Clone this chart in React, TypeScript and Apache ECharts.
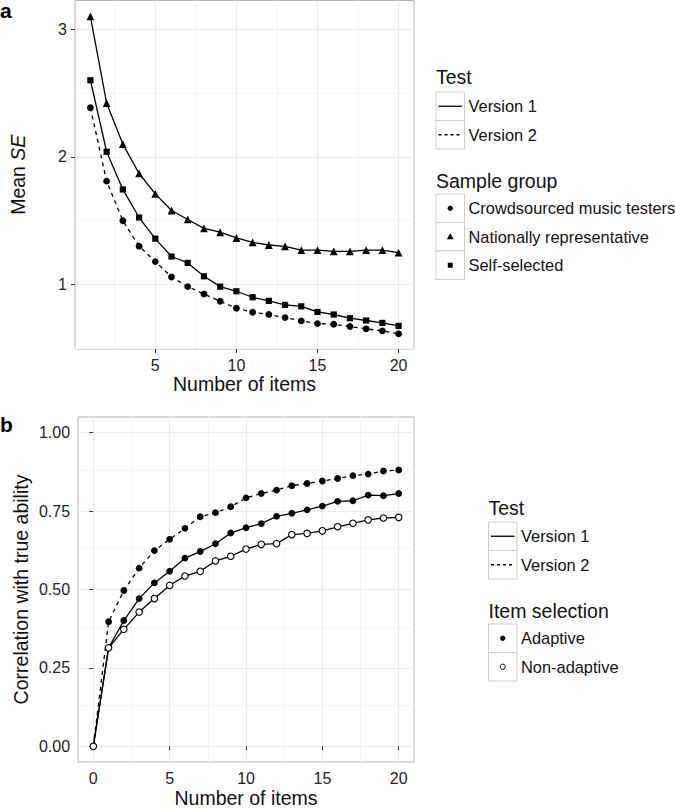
import React, { useEffect, useRef } from "react";
import * as echarts from "echarts";

const FONT = '"Liberation Sans", Arial, Helvetica, sans-serif';

// Panel a data
const itemsA = [1, 2, 3, 4, 5, 6, 7, 8, 9, 10, 11, 12, 13, 14, 15, 16, 17, 18, 19, 20];
const crowdsourcedV2 = [2.385, 1.81, 1.5, 1.3, 1.18, 1.06, 0.984, 0.927, 0.87, 0.815, 0.784, 0.766, 0.742, 0.716, 0.695, 0.69, 0.672, 0.654, 0.638, 0.615];
const nationalV1 = [3.1, 2.42, 2.1, 1.87, 1.71, 1.58, 1.51, 1.44, 1.41, 1.365, 1.33, 1.31, 1.3, 1.27, 1.27, 1.26, 1.26, 1.27, 1.27, 1.25];
const selfSelectedV1 = [2.6, 2.04, 1.745, 1.525, 1.36, 1.22, 1.17, 1.065, 0.984, 0.948, 0.901, 0.873, 0.841, 0.83, 0.786, 0.766, 0.737, 0.719, 0.7, 0.677];
const ticksAX = [5, 10, 15, 20];
const ticksAY = [1, 2, 3];
const minorAX = [2.5, 7.5, 12.5, 17.5];
const minorAY = [0.5, 1.5, 2.5];

// Panel b data
const itemsB = [0, 1, 2, 3, 4, 5, 6, 7, 8, 9, 10, 11, 12, 13, 14, 15, 16, 17, 18, 19, 20];
const adaptiveV2 = [0, 0.397, 0.497, 0.568, 0.624, 0.66, 0.695, 0.732, 0.745, 0.764, 0.792, 0.806, 0.817, 0.831, 0.838, 0.846, 0.854, 0.863, 0.868, 0.878, 0.881];
const adaptiveV1 = [0, 0.314, 0.401, 0.471, 0.521, 0.558, 0.6, 0.621, 0.646, 0.68, 0.697, 0.71, 0.733, 0.743, 0.754, 0.766, 0.781, 0.783, 0.801, 0.799, 0.806];
const nonAdaptiveV1 = [0, 0.314, 0.373, 0.428, 0.471, 0.513, 0.543, 0.558, 0.591, 0.606, 0.629, 0.644, 0.646, 0.675, 0.679, 0.687, 0.7, 0.711, 0.722, 0.728, 0.73];
const ticksBX = [0, 5, 10, 15, 20];
const ticksBY = [0, 0.25, 0.5, 0.75, 1];
const minorBX = [2.5, 7.5, 12.5, 17.5];
const minorBY = [0.125, 0.375, 0.625, 0.875];

const legendTest = ["Version 1", "Version 2"];
const legendSample = ["Crowdsourced music testers", "Nationally representative", "Self-selected"];
const legendItem = ["Adaptive", "Non-adaptive"];

const pairs = (xs: number[], ys: number[]) => xs.map((x, i) => [x, ys[i]]);

const MAJOR = "#ebebeb";
const MINOR = "#f4f4f4";

function gridSeries(idx: number, mx: number[], my: number[], Mx: number[], My: number[]) {
  const mk = (vals: number[], key: string, color: string) =>
    vals.map((v) => ({ [key]: v, lineStyle: { color, width: 1, type: "solid" } }));
  return {
    type: "line",
    xAxisIndex: idx,
    yAxisIndex: idx,
    data: [],
    silent: true,
    z: 0,
    markLine: {
      z: 0,
      silent: true,
      symbol: ["none", "none"],
      label: { show: false },
      animation: false,
      data: [
        ...mk(mx, "xAxis", MINOR),
        ...mk(my, "yAxis", MINOR),
        ...mk(Mx, "xAxis", MAJOR),
        ...mk(My, "yAxis", MAJOR),
      ],
    },
  };
}

function axisBase(ticks: number[], fmt?: (v: number) => string) {
  return {
    type: "value",
    axisLine: { show: false },
    splitLine: { show: false },
    axisTick: { show: true, length: 4, lineStyle: { color: "#333", width: 1 }, customValues: ticks },
    axisLabel: {
      customValues: ticks,
      color: "#222",
      fontSize: 16,
      fontFamily: FONT,
      formatter: fmt ? (v: number) => fmt(v) : undefined,
    },
  };
}

function legendBlock(x: number, titleY: number, title: string, rowsY: number[], labels: string[], kinds: string[]) {
  const els: any[] = [];
  els.push({
    type: "text",
    x,
    y: titleY,
    style: { text: title, fontSize: 19.5, fontFamily: FONT, fill: "#111", align: "left", verticalAlign: "middle" },
  });
  const S = 28.5;
  rowsY.forEach((y, i) => {
    const cx = x + S / 2;
    const cy = y + S / 2;
    els.push({ type: "rect", shape: { x, y, width: S, height: S }, style: { fill: "#fff", stroke: "#cccccc", lineWidth: 1 } });
    const k = kinds[i];
    if (k === "solid" || k === "dashed") {
      els.push({
        type: "line",
        shape: { x1: x + 2.5, y1: cy, x2: x + S - 2.5, y2: cy },
        style: { stroke: "#000", lineWidth: 1.3, lineDash: k === "dashed" ? [3, 3] : null },
      });
    } else if (k === "circle") {
      els.push({ type: "circle", shape: { cx, cy, r: 2.6 }, style: { fill: "#000" } });
    } else if (k === "open") {
      els.push({ type: "circle", shape: { cx, cy, r: 2.6 }, style: { fill: "#fff", stroke: "#000", lineWidth: 1 } });
    } else if (k === "triangle") {
      els.push({ type: "polygon", shape: { points: [[cx, cy - 3.4], [cx - 3.4, cy + 2.5], [cx + 3.4, cy + 2.5]] }, style: { fill: "#000" } });
    } else if (k === "square") {
      els.push({ type: "rect", shape: { x: cx - 2.5, y: cy - 2.5, width: 5, height: 5 }, style: { fill: "#000" } });
    }
    els.push({
      type: "text",
      x: x + 32.5,
      y: cy,
      style: { text: labels[i], fontSize: 16.4, fontFamily: FONT, fill: "#111", align: "left", verticalAlign: "middle" },
    });
  });
  return els;
}

export default function App() {
  const ref = useRef<HTMLDivElement>(null);
  useEffect(() => {
    if (!ref.current) return;
    const chart = echarts.init(ref.current, undefined, { renderer: "svg" });
    const lineS = (idx: number, name: string, data: number[][], dashed: boolean) => ({
      type: "line",
      name,
      xAxisIndex: idx,
      yAxisIndex: idx,
      data,
      symbol: "none",
      z: 6,
      silent: true,
      lineStyle: { color: "#000", width: 1.3, type: dashed ? [4, 4] : "solid" },
    });
    const pointS = (idx: number, name: string, data: number[][], symbol: string, size: number, open = false) => ({
      type: "scatter",
      name,
      xAxisIndex: idx,
      yAxisIndex: idx,
      data,
      symbol,
      symbolSize: size,
      z: 8,
      silent: true,
      itemStyle: open
        ? { color: "#fff", borderColor: "#000", borderWidth: 1.1, opacity: 1 }
        : { color: "#000", borderWidth: 0, opacity: 1 },
    });

    const option: any = {
      animation: false,
      backgroundColor: "#fff",
      textStyle: { fontFamily: FONT },
      grid: [
        { left: 71, top: 0.5, width: 343, height: 348.5, show: true, borderColor: "#b3b3b3", borderWidth: 1, backgroundColor: "#fff", containLabel: false },
        { left: 71, top: 417, width: 343, height: 348, show: true, borderColor: "#b3b3b3", borderWidth: 1, backgroundColor: "#fff", containLabel: false },
      ],
      xAxis: [
        {
          ...axisBase(ticksAX),
          gridIndex: 0,
          min: 0.05,
          max: 20.95,
          name: "Number of items",
          nameLocation: "middle",
          nameGap: 24,
          nameTextStyle: { fontSize: 19.5, color: "#111", fontFamily: FONT },
        },
        {
          ...axisBase(ticksBX),
          gridIndex: 1,
          min: -1,
          max: 21,
          name: "Number of items",
          nameLocation: "middle",
          nameGap: 26,
          nameTextStyle: { fontSize: 19.5, color: "#111", fontFamily: FONT },
        },
      ],
      yAxis: [
        {
          ...axisBase(ticksAY),
          gridIndex: 0,
          min: 0.496,
          max: 3.224,
          name: "{n|Mean }{i|SE}",
          nameLocation: "middle",
          nameGap: 47,
          nameTextStyle: {
            fontSize: 19.5,
            color: "#111",
            fontFamily: FONT,
            rich: {
              n: { fontSize: 19.5, fontFamily: FONT, color: "#111" },
              i: { fontSize: 19.5, fontFamily: FONT, color: "#111", fontStyle: "italic" },
            },
          },
        },
        {
          ...axisBase(ticksBY, (v: number) => v.toFixed(2)),
          gridIndex: 1,
          min: -0.05,
          max: 1.05,
          name: "Correlation with true ability",
          nameLocation: "middle",
          nameGap: 47,
          nameTextStyle: { fontSize: 19.5, color: "#111", fontFamily: FONT },
        },
      ],
      series: [
        gridSeries(0, minorAX, minorAY, ticksAX, ticksAY),
        gridSeries(1, minorBX, minorBY, ticksBX, ticksBY),
        lineS(0, "Crowdsourced music testers", pairs(itemsA, crowdsourcedV2), true),
        lineS(0, "Self-selected", pairs(itemsA, selfSelectedV1), false),
        lineS(0, "Nationally representative", pairs(itemsA, nationalV1), false),
        pointS(0, "Crowdsourced music testers pts", pairs(itemsA, crowdsourcedV2), "circle", 6.8),
        pointS(0, "Self-selected pts", pairs(itemsA, selfSelectedV1), "rect", 6.2),
        pointS(0, "Nationally representative pts", pairs(itemsA, nationalV1), "triangle", 7.8),
        lineS(1, "Adaptive Version 2", pairs(itemsB, adaptiveV2), true),
        lineS(1, "Adaptive Version 1", pairs(itemsB, adaptiveV1), false),
        lineS(1, "Non-adaptive Version 1", pairs(itemsB, nonAdaptiveV1), false),
        pointS(1, "Adaptive Version 2 pts", pairs(itemsB, adaptiveV2), "circle", 6.8),
        pointS(1, "Adaptive Version 1 pts", pairs(itemsB, adaptiveV1), "circle", 6.8),
        pointS(1, "Non-adaptive Version 1 pts", pairs(itemsB, nonAdaptiveV1), "circle", 6.5, true),
      ],
      graphic: [
        { type: "text", x: 0, y: 10, style: { text: "a", fontSize: 21, fontWeight: "bold", fontFamily: FONT, fill: "#000", verticalAlign: "middle" } },
        { type: "text", x: 0, y: 424, style: { text: "b", fontSize: 21, fontWeight: "bold", fontFamily: FONT, fill: "#000", verticalAlign: "middle" } },
        ...legendBlock(436, 77, "Test", [92, 120.5], legendTest, ["solid", "dashed"]),
        ...legendBlock(436, 180.5, "Sample group", [194, 222.5, 251], legendSample, ["circle", "triangle", "square"]),
        ...legendBlock(488.5, 507.5, "Test", [522, 550.5], legendTest, ["solid", "dashed"]),
        ...legendBlock(488.5, 610.5, "Item selection", [624, 652.5], legendItem, ["circle", "open"]),
      ],
    };
    chart.setOption(option);
    return () => chart.dispose();
  }, []);
  return (
    <div
      ref={ref}
      style={{ position: "fixed", left: 0, top: 0, width: 675, height: 809, background: "#fff" }}
    />
  );
}
